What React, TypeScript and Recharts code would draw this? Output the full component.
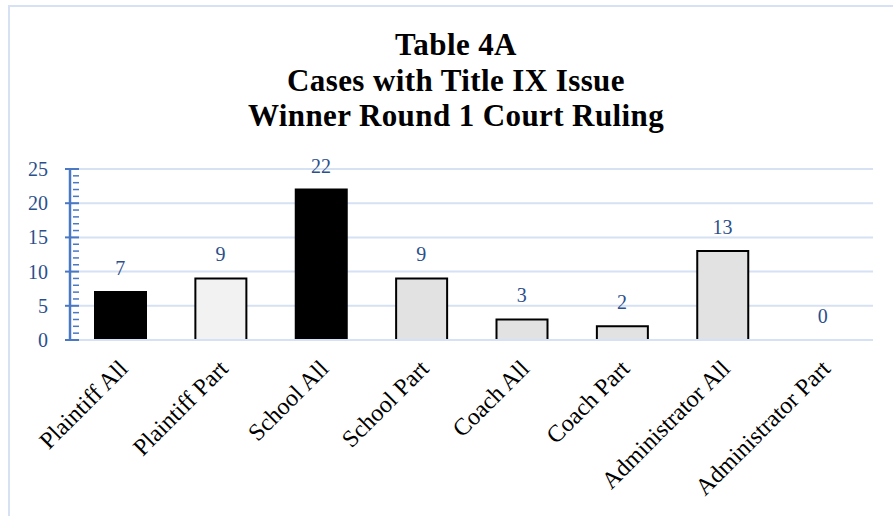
import { ComposedChart, Bar, Line, XAxis, YAxis, CartesianGrid, Cell, LabelList } from 'recharts'

const categories = [
  'Plaintiff All', 'Plaintiff Part', 'School All', 'School Part',
  'Coach All', 'Coach Part', 'Administrator All', 'Administrator Part',
]
const cases = [7, 9, 22, 9, 3, 2, 13, 0]
const yTicks = Array.from({ length: 26 }, (_, i) => i)
const majorTicks = [0, 5, 10, 15, 20, 25]
const titleLines = ['Table 4A', 'Cases with Title IX Issue', 'Winner Round 1 Court Ruling']

// fill per bar, same order as categories
const barFills = ['#000000', '#f2f2f2', '#000000', '#e2e2e2', '#e2e2e2', '#e2e2e2', '#e2e2e2', '#e2e2e2']

const data = categories.map((name, i) => ({ name, cases: cases[i] }))

const SERIF = '"Liberation Serif", "Times New Roman", serif'
const AXIS_BLUE = '#4a78c4'
const TEXT_BLUE = '#2c4f8c'
const GRID_BLUE = '#d6e1f3'

function YTick({ x, y, payload }: { x?: number; y?: number; payload?: { value: number } }) {
  const v = payload?.value ?? 0
  const major = v % 5 === 0
  return (
    <g>
      <line
        x1={major ? x! - 5 : x! + 3}
        x2={x! + 9}
        y1={y}
        y2={y}
        stroke={AXIS_BLUE}
        strokeWidth={major ? 2 : 1.5}
      />
      {major && (
        <text x={x! - 22} y={y! + 7} textAnchor="end" fontFamily={SERIF} fontSize={20} fill={TEXT_BLUE}>
          {v}
        </text>
      )}
    </g>
  )
}

function XTick({ x, y, payload }: { x?: number; y?: number; payload?: { value: string } }) {
  return (
    <g transform={`translate(${x! + 9},${y! + 22})`}>
      <text transform="rotate(-45)" textAnchor="end" fontFamily={SERIF} fontSize={24} fill="#000">
        {payload?.value}
      </text>
    </g>
  )
}

export default function App() {
  return (
    <div style={{ position: 'absolute', left: 0, top: 0, width: 893, height: 516, background: '#fff', overflow: 'hidden' }}>
      <div style={{
        position: 'absolute', left: 8, top: 5, width: 900, height: 520,
        borderLeft: `2px solid ${GRID_BLUE}`, borderTop: `2px solid ${GRID_BLUE}`,
      }} />
      <div style={{
        position: 'absolute', left: 0, top: 27, width: 912, textAlign: 'center',
        fontFamily: SERIF, fontWeight: 'bold', fontSize: 31, lineHeight: '35.5px', color: '#000',
        letterSpacing: 0.4,
      }}>
        {titleLines.map((t) => <div key={t}>{t}</div>)}
      </div>
      <div style={{ position: 'absolute', left: 0, top: 0 }}>
        <ComposedChart width={893} height={516} data={data} margin={{ top: 169, right: 20, bottom: 26, left: 10 }}>
          <CartesianGrid
            vertical={false}
            horizontalValues={majorTicks}
            stroke={GRID_BLUE}
            strokeWidth={2}
          />
          <XAxis
            dataKey="name"
            height={150}
            interval={0}
            axisLine={{ stroke: GRID_BLUE, strokeWidth: 2 }}
            tickLine={false}
            tick={<XTick />}
          />
          <YAxis
            width={60}
            domain={[0, 25]}
            ticks={yTicks}
            interval={0}
            tickLine={false}
            tickSize={0}
            tickMargin={0}
            axisLine={{ stroke: AXIS_BLUE, strokeWidth: 2.5 }}
            tick={<YTick />}
          />
          <Bar dataKey="cases" barSize={51} stroke="#000" strokeWidth={2} isAnimationActive={false}>
            {data.map((d, i) => <Cell key={d.name} fill={barFills[i]} />)}
          </Bar>
          {/* invisible series so the value labels also show for the zero bar */}
          <Line dataKey="cases" stroke="none" dot={false} activeDot={false} legendType="none" isAnimationActive={false}>
            <LabelList dataKey="cases" position="top" offset={17} fontFamily={SERIF} fontSize={20} fill={TEXT_BLUE} />
          </Line>
        </ComposedChart>
      </div>
    </div>
  )
}
